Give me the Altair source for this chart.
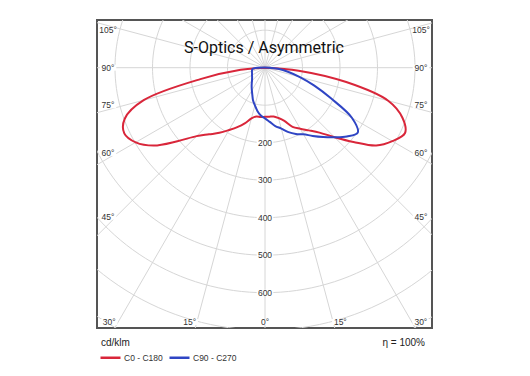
import math
import altair as alt
import pandas as pd

# ---------------- data (cd/klm) ----------------
gamma = list(range(0, 95, 5))  # 0..90 deg
c0 = [131, 131, 132, 139, 151, 174, 188, 204, 226, 262, 308, 362, 392, 412, 390, 340, 220, 90, 0]
c180 = [131, 132, 132, 140, 158, 175, 192, 212, 232, 258, 305, 362, 398, 414, 398, 335, 175, 65, 0]
c90 = [135, 145, 158, 168, 183, 195, 205, 222, 241, 262, 285, 302, 268, 195, 140, 95, 62, 35, 12]
c270 = [135, 128, 117, 104, 93, 80, 70, 62, 55, 49, 45, 42, 40, 38, 37, 36, 35, 33, 20]

series_names = ["C0 - C180", "C90 - C270"]
series_colors = ["#d9263a", "#2f45c4"]

ring_radii = [100, 200, 300, 400, 500, 600, 700, 800, 900]
ring_labels = [200, 300, 400, 500, 600]
spoke_angles = list(range(0, 360, 15))
edge_labels = ["105°", "90°", "75°", "60°", "45°"]
edge_angles = [105, 90, 75, 60, 45]
bottom_labels = ["30°", "15°", "0°", "15°", "30°"]
bottom_angles = [-30, -15, 0, 15, 30]

# ---------------- geometry / scales ----------------
PX = 0.375  # px per cd/klm
W, H = 335, 308
XMIN, XMAX = -168 / PX, 167 / PX
YMAX, YMIN = 47.7 / PX, -(H - 47.7) / PX
xs = alt.Scale(domain=[XMIN, XMAX], nice=False, zero=False)
ys = alt.Scale(domain=[YMIN, YMAX], nice=False, zero=False)

X = lambda f: alt.X(f, type="quantitative", scale=xs, axis=None)
Y = lambda f: alt.Y(f, type="quantitative", scale=ys, axis=None)

# curves as closed paths: left half (C180 / C270) from 90 down to 0, right half 0..90
rows = []
for name, left, right in [(series_names[0], c180, c0), (series_names[1], c270, c90)]:
    k = 0
    for g, v in reversed(list(zip(gamma, left))):
        rows.append(dict(series=name, g=g, I=v, side=-1, k=k)); k += 1
    for g, v in list(zip(gamma, right))[1:]:
        rows.append(dict(series=name, g=g, I=v, side=1, k=k)); k += 1
    rows.append(dict(series=name, g=gamma[-1], I=left[-1], side=-1, k=k))
curves_df = pd.DataFrame(rows)

ring_df = pd.DataFrame([dict(r=r, a=a) for r in ring_radii for a in range(0, 362, 2)])
spoke_df = pd.DataFrame(dict(a=spoke_angles))
ringlab_df = pd.DataFrame(dict(r=ring_labels, t=[str(v) for v in ring_labels]))

grid_color = "#d6d6d6"
font = "Liberation Sans"
label_color = "#333333"

rings = alt.Chart(ring_df).transform_calculate(
    x="datum.r*sin(datum.a*PI/180)", y="-datum.r*cos(datum.a*PI/180)"
).mark_line(clip=True, color=grid_color, strokeWidth=1).encode(
    x=X("x"), y=Y("y"), detail="r:N", order="a:Q"
)

spokes = alt.Chart(spoke_df).transform_calculate(
    x2="1200*sin(datum.a*PI/180)", y2="-1200*cos(datum.a*PI/180)", x0="0", y0="0"
).mark_rule(clip=True, color=grid_color, strokeWidth=1).encode(
    x=X("x0"), y=Y("y0"), x2="x2:Q", y2="y2:Q"
)

rect_shape = "M-1.8,-0.65L1.8,-0.65L1.8,0.65L-1.8,0.65Z"
ringlab_bg = alt.Chart(ringlab_df).transform_calculate(x="0", y="-datum.r").mark_point(
    shape=rect_shape, filled=True, color="white", opacity=1, size=85
).encode(x=X("x"), y=Y("y"))
ringlab = alt.Chart(ringlab_df).transform_calculate(x="0", y="-datum.r").mark_text(
    font=font, fontSize=8.5, color=label_color
).encode(x=X("x"), y=Y("y"), text="t:N")

# angle labels: placed just inside the frame, along each spoke direction
SHIFT = 1.5  # labels sit a little toward the horizontal
inset = 11 / PX
edge_rows = []
for t, a in zip(edge_labels, edge_angles):
    aa = math.radians(a + (SHIFT if a < 90 else -SHIFT if a > 90 else 0))
    dx = -XMIN - inset
    yy = -dx * math.cos(aa) / math.sin(aa)
    edge_rows.append(dict(t=t, x=XMIN + inset, y=yy, al="left"))
    edge_rows.append(dict(t=t, x=XMAX - inset, y=yy, al="right"))
ybot = YMIN + 6 / PX
for t, a in zip(bottom_labels, bottom_angles):
    aa = math.radians(a + (SHIFT if a > 0 else -SHIFT if a < 0 else 0))
    xx = -ybot * math.tan(aa)
    edge_rows.append(dict(t=t, x=xx, y=ybot, al="center"))
edge_df = pd.DataFrame(edge_rows)

edge_bg = alt.Chart(edge_df).mark_point(
    shape=rect_shape, filled=True, color="white", opacity=1, size=85
).encode(x=X("x"), y=Y("y"))
edge_text = alt.Chart(edge_df).mark_text(font=font, fontSize=8.5, color=label_color, align="center").encode(
    x=X("x"), y=Y("y"), text="t:N")

curves = alt.Chart(curves_df).transform_calculate(
    x="datum.side*datum.I*sin(datum.g*PI/180)", y="-datum.I*cos(datum.g*PI/180)"
).mark_line(strokeWidth=2, interpolate="catmull-rom").encode(
    x=X("x"), y=Y("y"), order="k:Q",
    color=alt.Color("series:N", scale=alt.Scale(domain=series_names, range=series_colors),
                    legend=alt.Legend(title=None, orient="none", legendX=2, legendY=326, direction="horizontal",
                                      symbolType="stroke", symbolSize=400, symbolStrokeWidth=2.5,
                                      labelFont=font, labelFontSize=8.5, labelColor=label_color,
                                      columnPadding=1, labelOffset=2, padding=0)),
)

title = alt.Chart(pd.DataFrame({"t": ["S-Optics / Asymmetric"]})).mark_text(
    font="Roboto", fontSize=16, color="#111", align="center", baseline="middle"
).encode(x=alt.value(167), y=alt.value(28), text="t:N")

unit = alt.Chart(pd.DataFrame({"t": ["cd/klm"]})).mark_text(
    font=font, fontSize=10, color="#222", align="left", baseline="middle"
).encode(x=alt.value(4), y=alt.value(323), text="t:N")
eta = alt.Chart(pd.DataFrame({"t": ["η = 100%"]})).mark_text(
    font=font, fontSize=10, color="#222", align="right", baseline="middle"
).encode(x=alt.value(328), y=alt.value(323), text="t:N")

chart = alt.layer(
    rings, spokes, ringlab_bg, ringlab, edge_bg, edge_text, curves, title, unit, eta
).properties(
    width=W, height=H, padding={"left": 89, "top": 12, "right": 5, "bottom": 5}
).configure(background="white").configure_view(stroke="#555555", strokeWidth=2)

chart.save("out.html", embed_options={"renderer": "svg", "actions": False})
